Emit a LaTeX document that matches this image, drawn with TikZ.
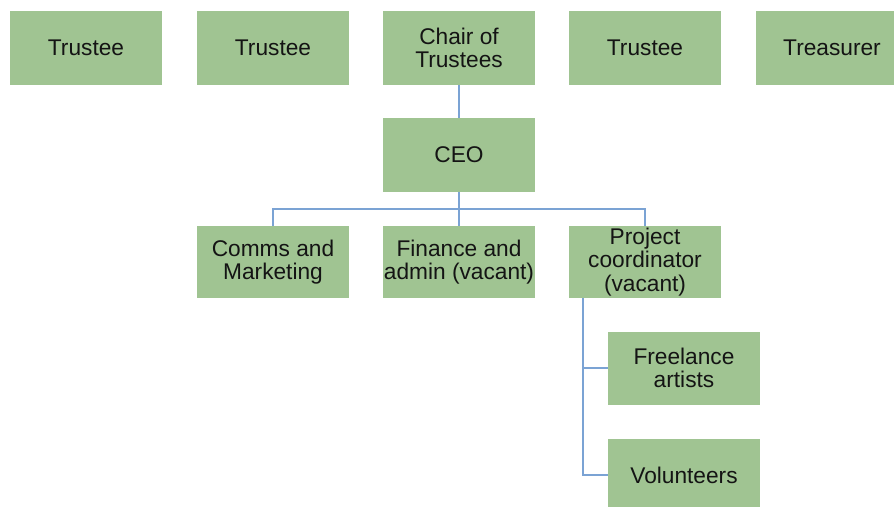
\documentclass[tikz,border=0pt]{standalone}
\usepackage{fontspec}
\setmainfont{Liberation Sans}
\definecolor{boxgreen}{HTML}{A0C492}
\definecolor{linkblue}{HTML}{7BA3D4}
\definecolor{txt}{HTML}{141414}
\begin{document}
\begin{tikzpicture}[x=1pt,y=-1pt,
  orgbox/.style={fill=boxgreen, draw=none, minimum width=152pt, minimum height=74pt,
    inner sep=0pt, align=center, text=txt,
    font=\fontsize{22.7}{23.5}\selectfont},
  rowbox/.style={orgbox, minimum height=72pt},
  link/.style={draw=linkblue, line width=1.8pt}]
\useasboundingbox (0,0) rectangle (894,506);
\clip (0,0) rectangle (894,506);
\node[orgbox] (t1) at (86,48) {Trustee};
\node[orgbox] (t2) at (273,48) {Trustee};
\node[orgbox] (chair) at (459,48) {Chair of\\Trustees};
\node[orgbox] (t3) at (645,48) {Trustee};
\node[orgbox] (treas) at (832,48) {Treasurer};
\node[orgbox] (ceo) at (459,155) {CEO};
\node[rowbox] (comms) at (273,262) {Comms and\\Marketing};
\node[rowbox] (fin) at (459,262) {Finance and\\admin (vacant)};
\node[rowbox] (proj) at (645,262) {Project\\coordinator\\(vacant)};
\node[orgbox, minimum height=73pt] (free) at (684,368) {Freelance\\artists};
\node[orgbox, minimum height=73pt] (vol) at (684,475) {Volunteers};
\draw[link] (chair.south) -- (ceo.north);
\draw[link] (ceo.south) -- (fin.north);
\draw[link] (comms.north) -- ++(0,-17) -| (proj.north);
\draw[link] ([xshift=14pt]proj.south west) |- (free.west);
\draw[link] ([xshift=14pt]proj.south west) |- (vol.west);
\end{tikzpicture}
\end{document}
